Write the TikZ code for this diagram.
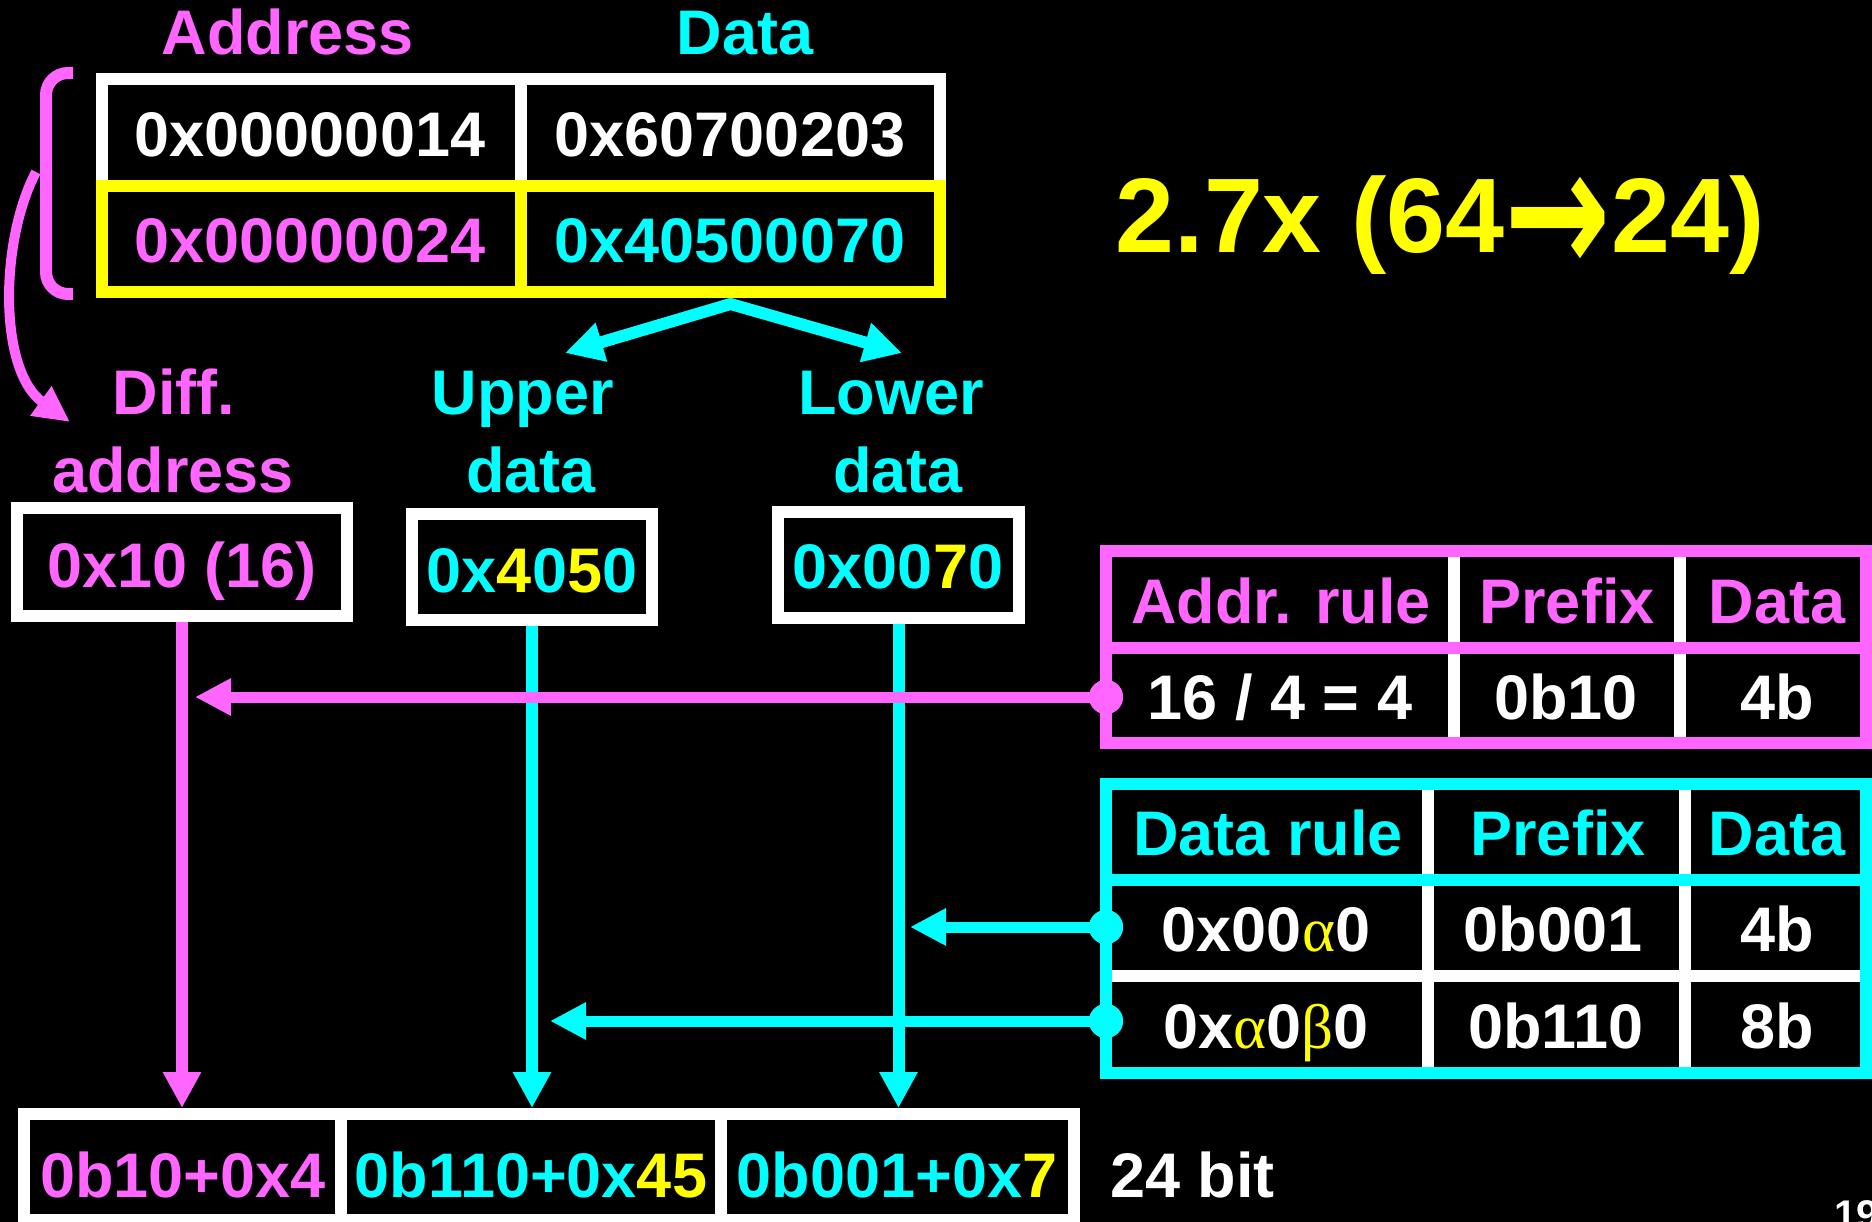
\documentclass[tikz,border=0pt]{standalone}
\usepackage{graphicx}
\usepackage{fontspec}
\setmainfont{Liberation Sans}
\newfontfamily\grk{Liberation Serif}
\newfontfamily\djv{DejaVu Sans}
\usetikzlibrary{arrows.meta}
\definecolor{mag}{HTML}{FF66FF}
\definecolor{cyn}{HTML}{00FFFF}
\definecolor{yel}{HTML}{FFFF00}
\begin{document}
\begin{tikzpicture}[x=1pt,y=-1pt,
  txt/.style={font=\fontsize{63}{70}\selectfont\bfseries, inner sep=0pt, anchor=base},
  cellbox/.style={line width=12pt, inner sep=0pt},
  thick arrow/.style={line width=12pt, -{Triangle[length=36pt,width=36pt]}},
  dotnode/.style={circle, inner sep=0pt, minimum size=34pt}
]
\fill[black] (0,0) rectangle (1872,1222);
\useasboundingbox (0,0) rectangle (1872,1222);

% ---------- top table ----------
\node[txt, text=mag] (hAddr) at (288,55) {Address};
\node[txt, text=cyn] (hData) at (745,55) {Data};
\node[cellbox, draw=white, minimum width=419pt, minimum height=107pt] (a1) at (311.5,132.5) {};
\node[cellbox, draw=white, minimum width=419pt, minimum height=107pt] (d1) at (730.5,132.5) {};
\node[cellbox, draw=yel, minimum width=419pt, minimum height=106pt] (a2) at (311.5,239) {};
\node[cellbox, draw=yel, minimum width=419pt, minimum height=106pt] (d2) at (730.5,239) {};
\node[txt, text=white] (ta1) at (310,157) {0x00000014};
\node[txt, text=white] (td1) at (730,157) {0x60700203};
\node[txt, text=mag] (ta2) at (310,263) {0x00000024};
\node[txt, text=cyn] (td2) at (730,263) {0x40500070};

% bracket and curved arrow
\draw[mag, line width=12pt, rounded corners=22pt] (73,73) -- (46,73) -- (46,294) -- (73,294);
\coordinate (cs) at (36,172);
\coordinate (ce) at (70,422);
\draw[mag, line width=10pt, -{Triangle[length=36pt,width=34pt]}] (cs) .. controls (0,240) and (-2,370) .. (ce);

% split arrows
\coordinate (ul) at (565,353);
\coordinate (lr) at (902,353);
\draw[cyn, line width=12pt, line join=miter, {Triangle[length=38pt,width=38pt]}-{Triangle[length=38pt,width=38pt]}] (ul) -- ([yshift=-6pt]d2.south) -- (lr);

% ---------- labels ----------
\node[txt, text=mag] (l1a) at (174,415) {Diff.};
\node[txt, text=mag] (l1b) at (173,492) {address};
\node[txt, text=cyn] (l2a) at (523,415) {Upper};
\node[txt, text=cyn] (l2b) at (531,492) {data};
\node[txt, text=cyn] (l3a) at (891,415) {Lower};
\node[txt, text=cyn] (l3b) at (898,492) {data};

% ---------- middle boxes ----------
\node[cellbox, draw=white, minimum width=330pt, minimum height=108pt] (bxA) at (182,562) {};
\node[cellbox, draw=white, minimum width=240pt, minimum height=106pt] (bxU) at (532,567) {};
\node[cellbox, draw=white, minimum width=241pt, minimum height=106pt] (bxL) at (898.5,565) {};
\node[txt, text=mag] (tA) at (182,587) {0x10 (16)};
\node[txt] (tU) at (532,592) {\textcolor{cyn}{0x}\textcolor{yel}{4}\textcolor{cyn}{0}\textcolor{yel}{5}\textcolor{cyn}{0}};
\node[txt] (tL) at (898,588) {\textcolor{cyn}{0x00}\textcolor{yel}{7}\textcolor{cyn}{0}};

% ---------- bottom table ----------
\node[cellbox, draw=white, minimum width=317pt, minimum height=106pt] (b1) at (182.5,1167) {};
\node[cellbox, draw=white, minimum width=380pt, minimum height=106pt] (b2) at (531,1167) {};
\node[cellbox, draw=white, minimum width=353pt, minimum height=106pt] (b3) at (897.5,1167) {};
\node[txt, text=mag] (tb1) at (183,1197) {0b10+0x4};
\node[txt] (tb2) at (531,1197) {\textcolor{cyn}{0b110+0x}\textcolor{yel}{45}};
\node[txt] (tb3) at (897,1197) {\textcolor{cyn}{0b001+0x}\textcolor{yel}{7}};
\node[txt, text=white, anchor=base west] (bits) at (1110,1197) {24 bit};

% vertical arrows
\draw[mag, thick arrow] (bxA.south) -- (bxA.south |- b1.north);
\draw[cyn, thick arrow] (bxU.south) -- (bxU.south |- b2.north);
\draw[cyn, thick arrow] (bxL.south) -- (bxL.south |- b3.north);

% ---------- address rule table ----------
\node[cellbox, draw=white, minimum width=348pt, minimum height=97pt] (ah1) at (1280,599.5) {};
\node[cellbox, draw=white, minimum width=226pt, minimum height=97pt] (ah2) at (1567,599.5) {};
\node[cellbox, draw=white, minimum width=186pt, minimum height=97pt] (ah3) at (1773,599.5) {};
\node[cellbox, draw=white, minimum width=348pt, minimum height=95pt] (ar1) at (1280,695.5) {};
\node[cellbox, draw=white, minimum width=226pt, minimum height=95pt] (ar2) at (1567,695.5) {};
\node[cellbox, draw=white, minimum width=186pt, minimum height=95pt] (ar3) at (1773,695.5) {};
\draw[mag, line width=12pt] (1106,551) rectangle (1866,743);
\draw[mag, line width=12pt] (1106,648) -- (1866,648);
\node[txt, text=mag] at (1281,623) {Addr. rule};
\node[txt, text=mag] at (1567,623) {Prefix};
\node[txt, text=mag] at (1777,623) {Data};
\node[txt, text=white] at (1280,719) {16 / 4 = 4};
\node[txt, text=white] at (1566,719) {0b10};
\node[txt, text=white] at (1777,719) {4b};

% ---------- data rule table ----------
\node[cellbox, draw=white, minimum width=322pt, minimum height=96pt] (dh1) at (1267,832) {};
\node[cellbox, draw=white, minimum width=257pt, minimum height=96pt] (dh2) at (1556.5,832) {};
\node[cellbox, draw=white, minimum width=181pt, minimum height=96pt] (dh3) at (1775.5,832) {};
\node[cellbox, draw=white, minimum width=322pt, minimum height=96pt] (dr1) at (1267,928) {};
\node[cellbox, draw=white, minimum width=257pt, minimum height=96pt] (dr2) at (1556.5,928) {};
\node[cellbox, draw=white, minimum width=181pt, minimum height=96pt] (dr3) at (1775.5,928) {};
\node[cellbox, draw=white, minimum width=322pt, minimum height=97pt] (ds1) at (1267,1024.5) {};
\node[cellbox, draw=white, minimum width=257pt, minimum height=97pt] (ds2) at (1556.5,1024.5) {};
\node[cellbox, draw=white, minimum width=181pt, minimum height=97pt] (ds3) at (1775.5,1024.5) {};
\draw[cyn, line width=12pt] (1106,784) rectangle (1866,1073);
\draw[cyn, line width=12pt] (1106,880) -- (1866,880);
\node[txt, text=cyn] at (1268,855) {Data rule};
\node[txt, text=cyn] at (1558,855) {Prefix};
\node[txt, text=cyn] at (1777,855) {Data};
\node[txt, text=white] at (1266,951) {0x00{\grk\mdseries\textcolor{yel}{α}}0};
\node[txt, text=white] at (1553,951) {0b001};
\node[txt, text=white] at (1777,951) {4b};
\node[txt, text=white] at (1266,1048) {0x{\grk\mdseries\textcolor{yel}{α}}0{\grk\mdseries\textcolor{yel}{β}}0};
\node[txt, text=white] at (1556,1048) {0b110};
\node[txt, text=white] at (1777,1048) {8b};

% ---------- horizontal arrows with dots ----------
\coordinate (tipA) at (195,697);
\coordinate (tipB) at (910,927);
\coordinate (tipC) at (550,1021);
\node[dotnode, fill=mag] (dotA) at (1106,697) {};
\node[dotnode, fill=cyn] (dotB) at (1106,927) {};
\node[dotnode, fill=cyn] (dotC) at (1106,1021) {};
\draw[mag, line width=11pt, -{Triangle[length=36pt,width=35pt]}] (dotA.center) -- (tipA);
\draw[cyn, line width=11pt, -{Triangle[length=36pt,width=35pt]}] (dotB.center) -- (tipB);
\draw[cyn, line width=11pt, -{Triangle[length=36pt,width=35pt]}] (dotC.center) -- (tipC);
\fill[mag] (dotA) circle (17pt);
\fill[cyn] (dotB) circle (17pt);
\fill[cyn] (dotC) circle (17pt);

% ---------- ratio ----------
\node[txt, text=yel, font=\fontsize{106}{112}\selectfont\bfseries] (ratio) at (1440,253) {2.7x (64\raisebox{-22pt}{\scalebox{1.2}[1.7]{\djv\bfseries →}}24)};

% page number
\node[font=\fontsize{40}{44}\selectfont\bfseries, text=white, anchor=north west, inner sep=0pt] (pg) at (1834,1200) {19};
\end{tikzpicture}
\end{document}
